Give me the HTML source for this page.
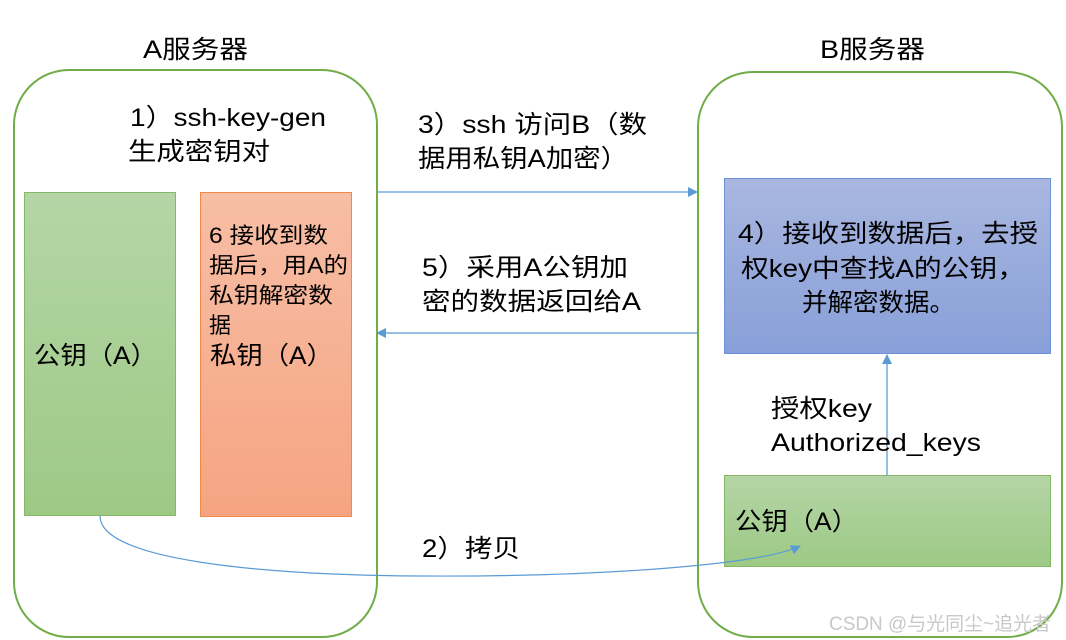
<!DOCTYPE html>
<html><head><meta charset="utf-8"><style>
html,body{margin:0;padding:0;background:#fff;width:1066px;height:640px;overflow:hidden}
text{font-family:"Liberation Sans","Noto Sans CJK SC",sans-serif;font-size:25px;fill:#000}
</style></head><body>
<svg width="1066" height="640" viewBox="0 0 1066 640" xmlns="http://www.w3.org/2000/svg">
<defs>
<linearGradient id="g" x1="0" y1="0" x2="0" y2="1"><stop offset="0" stop-color="#b5d5a6"/><stop offset="1" stop-color="#9dc985"/></linearGradient>
<linearGradient id="o" x1="0" y1="0" x2="0" y2="1"><stop offset="0" stop-color="#f7bea6"/><stop offset="1" stop-color="#f6a481"/></linearGradient>
<linearGradient id="b" x1="0" y1="0" x2="0" y2="1"><stop offset="0" stop-color="#a9b7e0"/><stop offset="1" stop-color="#889fd8"/></linearGradient>
<marker id="ah" markerWidth="10" markerHeight="10" refX="9" refY="5" orient="auto" markerUnits="userSpaceOnUse"><path d="M0,0 L10,5 L0,10 z" fill="#5b9bd5"/></marker>
</defs>
<rect x="14" y="70" width="363" height="567" rx="55" fill="none" stroke="#70ad47" stroke-width="2"/>
<rect x="698" y="72" width="364" height="565" rx="55" fill="none" stroke="#70ad47" stroke-width="2"/>
<text x="143" y="58" textLength="105" lengthAdjust="spacingAndGlyphs">A服务器</text>
<text x="820" y="58" textLength="105" lengthAdjust="spacingAndGlyphs">B服务器</text>
<text x="130" y="126" textLength="196" lengthAdjust="spacingAndGlyphs">1）ssh-key-gen</text>
<text x="128" y="160" textLength="142" lengthAdjust="spacingAndGlyphs">生成密钥对</text>
<rect x="24.5" y="192.5" width="151" height="323" fill="url(#g)" stroke="#82b866"/>
<rect x="200.5" y="192.5" width="151" height="324" fill="url(#o)" stroke="#f08a4b"/>
<text x="34" y="364" textLength="123" lengthAdjust="spacingAndGlyphs">公钥（A）</text>
<text x="209" y="243" style="font-size:22px" textLength="119" lengthAdjust="spacingAndGlyphs">6 接收到数</text>
<text x="209" y="273" style="font-size:22px" textLength="139" lengthAdjust="spacingAndGlyphs">据后，用A的</text>
<text x="209" y="303" style="font-size:22px" textLength="124" lengthAdjust="spacingAndGlyphs">私钥解密数</text>
<text x="209" y="333" style="font-size:22px">据</text>
<text x="210" y="364" textLength="123" lengthAdjust="spacingAndGlyphs">私钥（A）</text>
<text x="418" y="133" textLength="229" lengthAdjust="spacingAndGlyphs">3）ssh 访问B（数</text>
<text x="418" y="167" textLength="210" lengthAdjust="spacingAndGlyphs">据用私钥A加密）</text>
<text x="422" y="276" textLength="206" lengthAdjust="spacingAndGlyphs">5）采用A公钥加</text>
<text x="422" y="310" textLength="219" lengthAdjust="spacingAndGlyphs">密的数据返回给A</text>
<line x1="377" y1="192" x2="697" y2="192" stroke="#5b9bd5" stroke-width="1.3" marker-end="url(#ah)"/>
<line x1="697" y1="333" x2="377" y2="333" stroke="#5b9bd5" stroke-width="1.3" marker-end="url(#ah)"/>
<rect x="724.5" y="178.5" width="326" height="175" fill="url(#b)" stroke="#6f8fd8"/>
<text x="738" y="242" textLength="300" lengthAdjust="spacingAndGlyphs">4）接收到数据后，去授</text>
<text x="741" y="277" textLength="284" lengthAdjust="spacingAndGlyphs">权key中查找A的公钥，</text>
<text x="802" y="311" textLength="153" lengthAdjust="spacingAndGlyphs">并解密数据。</text>
<line x1="887" y1="475" x2="887" y2="355" stroke="#5b9bd5" stroke-width="1.3" marker-end="url(#ah)"/>
<text x="771" y="417" textLength="101" lengthAdjust="spacingAndGlyphs">授权key</text>
<text x="771" y="451" textLength="210" lengthAdjust="spacingAndGlyphs">Authorized_keys</text>
<rect x="724.5" y="475.5" width="326" height="91" fill="url(#g)" stroke="#82b866"/>
<text x="735" y="530" textLength="123" lengthAdjust="spacingAndGlyphs">公钥（A）</text>
<path d="M100,516 C100,560 260,575 420,576 C600,577 760,565 800,546" fill="none" stroke="#5b9bd5" stroke-width="1.2" marker-end="url(#ah)"/>
<text x="422" y="557" textLength="98" lengthAdjust="spacingAndGlyphs">2）拷贝</text>
<text x="829" y="630" style="font-size:19px;fill:#c8c8c8" textLength="222" lengthAdjust="spacingAndGlyphs">CSDN @与光同尘~追光者</text>
</svg>
</body></html>
